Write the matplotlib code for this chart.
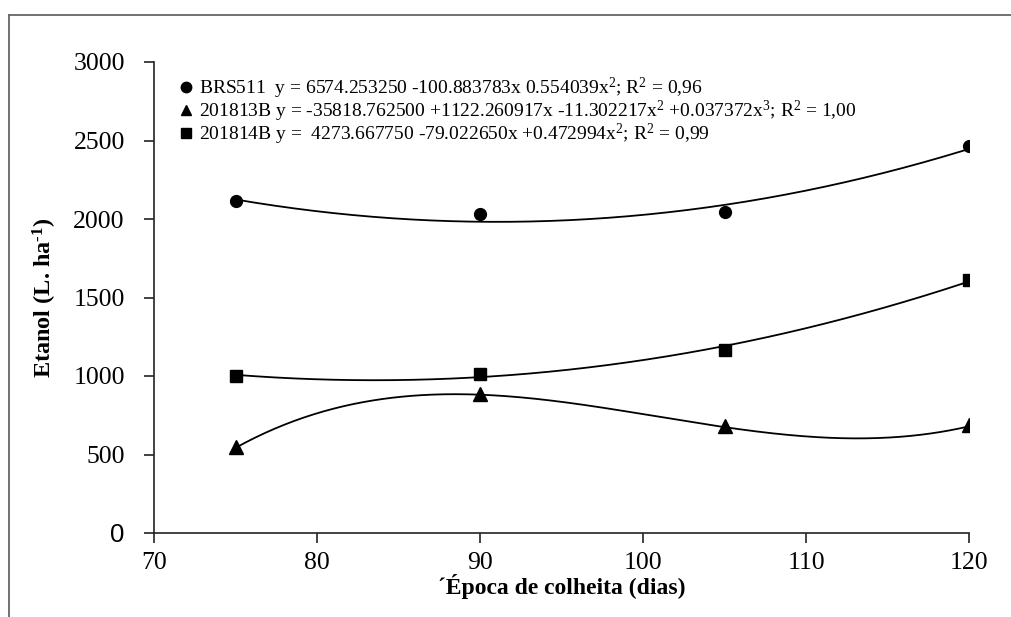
import numpy as np
import matplotlib
matplotlib.use("Agg")
import matplotlib.pyplot as plt
from matplotlib.lines import Line2D

plt.rcParams['font.family'] = ['Liberation Serif', 'DejaVu Serif']
plt.rcParams['mathtext.fontset'] = 'custom'
plt.rcParams['mathtext.rm'] = 'Liberation Serif'
plt.rcParams['mathtext.it'] = 'Liberation Serif:italic'
plt.rcParams['mathtext.bf'] = 'Liberation Serif:bold'

# Data
dias = [75, 90, 105, 120]
brs511 = [2117, 2034, 2045, 2468]
g201813b = [545, 883, 679, 686]
g201814b = [1000, 1013, 1164, 1609]

# Printed regression coefficients (highest degree first)
coef_brs511 = [0.554039, -100.883783, 6574.253250]
coef_201813b = [0.037372, -11.302217, 1122.260917, -35818.762500]
coef_201814b = [0.472994, -79.022650, 4273.667750]

labels = [
    "BRS511  y = 6574.253250 -100.883783x 0.554039x$^{2}$; R$^{2}$ = 0,96",
    "201813B y = -35818.762500 +1122.260917x -11.302217x$^{2}$ +0.037372x$^{3}$; R$^{2}$ = 1,00",
    "201814B y =  4273.667750 -79.022650x +0.472994x$^{2}$; R$^{2}$ = 0,99",
]

xticks = [70, 80, 90, 100, 110, 120]
yticks = [0, 500, 1000, 1500, 2000, 2500, 3000]

fig = plt.figure(figsize=(10.11, 6.17), dpi=100)
ax = fig.add_axes([154/1011, 1 - 533/617, (969-154)/1011, (533-62)/617])

xs = np.linspace(75, 120, 300)
series = [(brs511, coef_brs511, 'o', 8.5), (g201813b, coef_201813b, '^', 9.5), (g201814b, coef_201814b, 's', 8)]
handles = []
for (vals, coef, mk, ms), lab in zip(series, labels):
    ax.plot(xs, np.polyval(coef, xs), color='black', lw=1.3, zorder=2)
    h, = ax.plot(dias, vals, linestyle='none', marker=mk, ms=ms, color='black', zorder=3)
    handles.append(h)

ax.set_xlim(70, 120)
ax.set_ylim(0, 3000)
ax.set_xticks(xticks)
ax.set_yticks(yticks)
ax.tick_params(axis='both', direction='out', length=7, width=1.2, labelsize=18.5, color='#222222')
ax.tick_params(axis='x', pad=7)
ax.tick_params(axis='y', pad=14)
for s in ['top', 'right']:
    ax.spines[s].set_visible(False)
for s in ['left', 'bottom']:
    ax.spines[s].set_linewidth(1.2)
    ax.spines[s].set_color('#222222')
ax.get_yticklabels()[0].set_fontfamily('Liberation Sans')

ax.set_xlabel("´Época de colheita (dias)", fontsize=17, fontweight='bold', labelpad=0)
ax.set_ylabel("Etanol (L. ha$^{\\mathbf{‐1}}$)", fontsize=17.5, fontweight='bold', labelpad=10)

leg = ax.legend(handles, labels, loc='upper left', bbox_to_anchor=(180/1011, 1 - 76/617),
                bbox_transform=fig.transFigure, frameon=False, fontsize=14,
                handlelength=0.6, handletextpad=0.4, labelspacing=-0.12, borderpad=0, borderaxespad=0)
for h in leg.legend_handles:
    h.set_markersize(7.5)

# outer frame (top and left)
fig.add_artist(Line2D([9/1011, 1], [1 - 15/617, 1 - 15/617], transform=fig.transFigure, color='#666666', lw=1.3))
fig.add_artist(Line2D([9/1011, 9/1011], [0, 1 - 15/617], transform=fig.transFigure, color='#666666', lw=1.3))

fig.savefig("out.png", dpi=100)
